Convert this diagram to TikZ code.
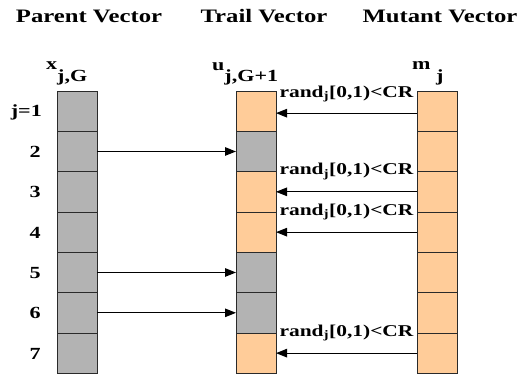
\documentclass[tikz,border=0pt]{standalone}
\usepackage{fontspec}
\setmainfont{Liberation Serif}[FakeStretch=1.3]
\usetikzlibrary{arrows.meta}
\definecolor{cellgray}{HTML}{B3B3B3}
\definecolor{cellorange}{HTML}{FFCC99}
\definecolor{edgec}{HTML}{2A2A2A}
\tikzset{
  cell/.style={draw=edgec, line width=0.9pt, minimum width=40pt, minimum height=40.33pt, inner sep=0pt, outer sep=0pt},
  gcell/.style={cell, fill=cellgray},
  ocell/.style={cell, fill=cellorange},
  link/.style={line width=1.1pt, -{Triangle[length=11pt,width=8.5pt]}},
  title/.style={font=\fontsize{19}{21}\selectfont\bfseries, anchor=base, inner sep=0pt},
  vlab/.style={font=\fontsize{17}{19}\selectfont\bfseries, anchor=base west, inner sep=0pt},
  rowlab/.style={font=\fontsize{17}{19}\selectfont\bfseries, anchor=base east, inner sep=0pt},
  cond/.style={font=\fontsize{16.5}{18}\selectfont\bfseries, anchor=base, inner sep=0pt},
}
\newcommand{\crtext}{rand\textsubscript{j}[0,1)<CR}
\begin{document}
\begin{tikzpicture}[x=1pt,y=-1pt]
\useasboundingbox (0,0) rectangle (531,374);
% titles
\node[title] (tp) at (89,23) {Parent Vector};
\node[title] (tt) at (264,23) {Trail Vector};
\node[title] (tm) at (440,23) {Mutant Vector};
% vector labels
\node[vlab] (lx) at (46,70) {x\raisebox{-12pt}{j,G}};
\node[vlab] (lu) at (212,71) {u\raisebox{-11pt}{j,G+1}};
\node[vlab] (lm) at (412,70) {m\raisebox{-12pt}{ j}};
% cells
\foreach \i in {1,...,7} {
  \node[gcell] (p\i) at (77,{91+40.33*(\i-0.5)}) {};
  \node[ocell] (m\i) at (437,{91+40.33*(\i-0.5)}) {};
}
\foreach \i in {1,3,4,7} {
  \node[ocell] (t\i) at (256,{91+40.33*(\i-0.5)}) {};
}
\foreach \i in {2,5,6} {
  \node[gcell] (t\i) at (256,{91+40.33*(\i-0.5)}) {};
}
% row labels
\node[rowlab] (r1) at (42,117) {j=1};
\foreach \i in {2,...,7} {
  \node[rowlab] (r\i) at (41,{91+40.33*(\i-0.5)+6}) {\i};
}
% parent -> trail
\foreach \i in {2,5,6} {
  \draw[link] (p\i.east) -- (t\i.west);
}
% mutant -> trail with condition
\draw[link] ([yshift=-2pt]m1.west) -- ([yshift=-2pt]t1.east) node[cond, pos=0.5, yshift=16pt] (c1) {\crtext};
\foreach \i in {3,4,7} {
  \draw[link] (m\i.west) -- (t\i.east) node[cond, pos=0.5, yshift=17pt] (c\i) {\crtext};
}
\end{tikzpicture}
\end{document}
